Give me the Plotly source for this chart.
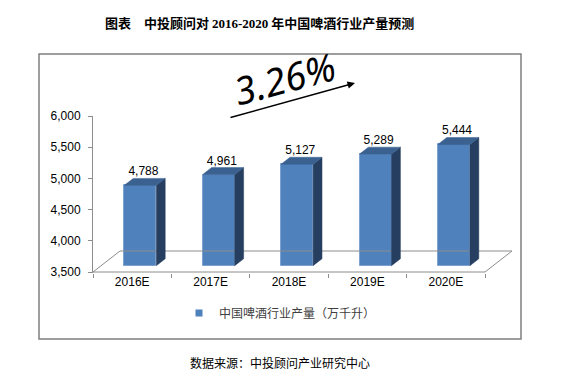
import plotly.graph_objects as go

# ---- data ----
years = ["2016E", "2017E", "2018E", "2019E", "2020E"]
values = [4788, 4961, 5127, 5289, 5444]
growth_label = "3.26%"
series_name = "中国啤酒行业产量（万千升）"
y_ticks = [3500, 4000, 4500, 5000, 5500, 6000]

# ---- geometry (pseudo 3D) ----
W, H = 567, 376
L, R, T, B = 85, 504, 108, 265
BASE = 3500
YMAX = 6000
px_per_unit_x = 78.4
px_per_val = 31.2 / 500
DX = 27 / px_per_unit_x          # depth offset in x units
DY = 21 / px_per_val             # depth offset in value units
YMIN = YMAX - (B - T) / px_per_val
XMIN = -0.5
XMAX = XMIN + (R - L) / px_per_unit_x
F0, F1 = 0.30, 0.63              # bar depth span (fraction of floor depth)
BW = 32 / px_per_unit_x          # bar front width


def xp(p):
    return (p - L) / (R - L)


def yp(p):
    return (B - p) / (B - T)


n = len(years)
idx = list(range(n))

fig = go.Figure()

# floor outline
fx = [XMIN, XMIN + DX, n - 0.5 + DX, n - 0.5, XMIN]
fy = [BASE, BASE + DY, BASE + DY, BASE, BASE]
fig.add_trace(go.Scatter(x=fx, y=fy, mode="lines", line=dict(color="#8C8C8C", width=1),
                         hoverinfo="skip", showlegend=False))

# front faces (bars)
centers = [i + F0 * DX for i in idx]
fig.add_trace(go.Bar(
    x=centers, y=[v - BASE for v in values], base=[BASE + F0 * DY] * n,
    width=BW, name=series_name,
    marker=dict(color="#4F81BD", line=dict(color="#7EA2D0", width=1)),
    showlegend=False, hoverinfo="skip"))

# side and top faces
sx, sy, tx, ty = [], [], [], []
for i, v in zip(idx, values):
    xl = centers[i] - BW / 2
    xr = centers[i] + BW / 2
    d = (F1 - F0)
    sx += [xr, xr, xr + d * DX, xr + d * DX, xr, None]
    sy += [BASE + F0 * DY, v + F0 * DY, v + F1 * DY, BASE + F1 * DY, BASE + F0 * DY, None]
    tx += [xl, xr, xr + d * DX, xl + d * DX, xl, None]
    ty += [v + F0 * DY, v + F0 * DY, v + F1 * DY, v + F1 * DY, v + F0 * DY, None]
fig.add_trace(go.Scatter(x=sx, y=sy, mode="lines", fill="toself", fillcolor="#263F61",
                         line=dict(color="#263F61", width=0.5), hoverinfo="skip", showlegend=False))
fig.add_trace(go.Scatter(x=tx, y=ty, mode="lines", fill="toself", fillcolor="#3B6190",
                         line=dict(color="#3B6190", width=0.5), hoverinfo="skip", showlegend=False))

# data labels
fig.add_trace(go.Scatter(
    x=[c + 0.04 for c in centers], y=[v + F1 * DY for v in values],
    mode="text", text=[f"{v:,}" for v in values], textposition="top center",
    textfont=dict(family="Liberation Sans, Arial", size=12, color="#000000"),
    hoverinfo="skip", showlegend=False, cliponaxis=False))

# legend entry (small square)
fig.add_trace(go.Scatter(
    x=[None], y=[None], mode="markers", name=series_name,
    marker=dict(symbol="square", size=7, color="#4F81BD"), showlegend=True))

fig.update_layout(
    width=W, height=H, autosize=False,
    margin=dict(l=L, r=W - R, t=T, b=H - B, pad=0),
    paper_bgcolor="white", plot_bgcolor="rgba(0,0,0,0)",
    font=dict(family="Liberation Sans, Arial, Noto Sans CJK SC", size=12, color="#000000"),
    xaxis=dict(range=[XMIN, XMAX], tickmode="array", tickvals=idx, ticktext=years,
               ticks="", showline=False, showgrid=False, zeroline=False,
               tickfont=dict(size=12, color="#000000"),
               minor=dict(tickmode="array", tickvals=[i - 0.5 for i in range(n + 1)],
                          ticks="outside", ticklen=4, tickcolor="#8C8C8C", showgrid=False)),
    yaxis=dict(range=[YMIN, YMAX], tickmode="array", tickvals=y_ticks,
               ticktext=[f"{t:,}" for t in y_ticks], ticks="outside", ticklen=4,
               tickcolor="#8C8C8C", showline=True, linecolor="#8C8C8C", linewidth=1,
               ticklabelstandoff=5,
               showgrid=False, zeroline=False, tickfont=dict(size=12, color="#000000")),
    bargap=0,
    legend=dict(orientation="h", x=xp(272), y=yp(305), xanchor="center", yanchor="middle",
                font=dict(family="Noto Sans CJK SC", size=12, color="#404040"),
                bgcolor="rgba(0,0,0,0)", itemwidth=30, itemsizing="trace"),
    shapes=[dict(type="rect", xref="paper", yref="paper", x0=xp(31), x1=xp(513),
                 y0=yp(331), y1=yp(46), line=dict(color="#7F7F7F", width=1.5),
                 fillcolor="rgba(0,0,0,0)", layer="below")],
    annotations=[
        dict(xref="paper", yref="paper", x=xp(251), y=yp(15), xanchor="center", yanchor="middle",
             showarrow=False,
             text="<b>图表　中投顾问对 <span style='font-family:Liberation Serif'>2016-2020</span> 年中国啤酒行业产量预测</b>",
             font=dict(family="Noto Sans CJK SC", size=13, color="#000000")),
        dict(xref="paper", yref="paper", x=xp(272), y=yp(354), xanchor="center", yanchor="middle",
             showarrow=False, text="数据来源：中投顾问产业研究中心",
             font=dict(family="Noto Sans CJK SC", size=12, color="#000000")),
        dict(xref="paper", yref="paper", x=xp(276), y=yp(70), xanchor="center", yanchor="middle",
             showarrow=False, text="<i>" + growth_label + "</i>", textangle=-15,
             font=dict(family="Noto Sans, DejaVu Sans", size=38, color="#000000", style="italic")),
        dict(xref="paper", yref="paper", x=xp(347), y=yp(75), text="", showarrow=True,
             ax=-126, ay=35, arrowhead=2, arrowsize=1, arrowwidth=1.5, arrowcolor="#000000"),
    ],
)

fig.write_html("out.html")
